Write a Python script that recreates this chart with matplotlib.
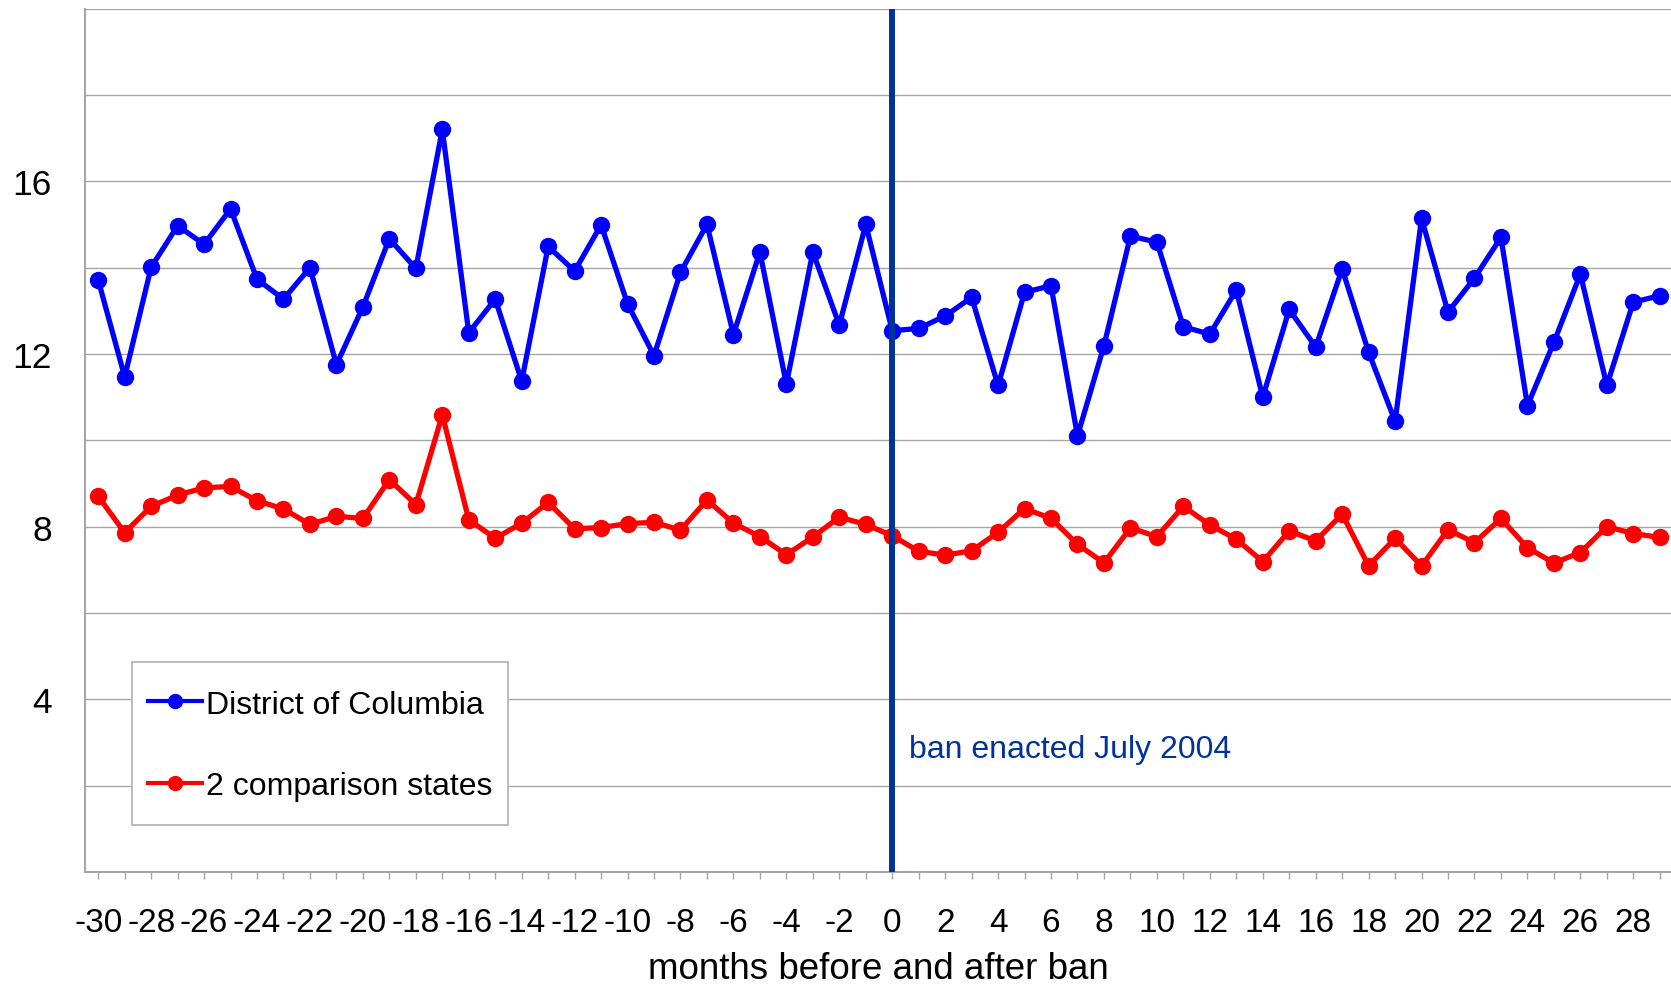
import numpy as np
import matplotlib
matplotlib.use('Agg')
import matplotlib.pyplot as plt
from matplotlib.legend_handler import HandlerLine2D

plt.rcParams['font.family'] = ['Liberation Sans', 'DejaVu Sans']

months = np.arange(-30, 30)
dc = [13.71, 11.47, 14.01, 14.97, 14.54, 15.36, 13.73, 13.27, 14.0, 11.75,
      13.09, 14.67, 13.98, 17.2, 12.49, 13.27, 11.37, 14.49,
      13.92, 14.99, 13.16, 11.96, 13.89, 15.0, 12.45, 14.36, 11.30, 14.36,
      12.67, 15.0, 12.54, 12.59, 12.88, 13.31,
      11.27, 13.43, 13.58, 10.10, 12.19, 14.73, 14.59, 12.63, 12.46, 13.48,
      11.0, 13.03, 12.16, 13.97, 12.04, 10.44, 15.14, 12.97, 13.76, 14.70,
      10.80, 12.27, 13.85, 11.27, 13.20, 13.35]
comp = [8.70, 7.86, 8.47, 8.73, 8.90, 8.93, 8.60, 8.41, 8.05, 8.24,
        8.19, 9.09, 8.51, 10.59, 8.16, 7.73, 8.08, 8.56,
        7.95, 7.98, 8.07, 8.10, 7.92, 8.62, 8.08, 7.77, 7.35, 7.76,
        8.22, 8.05, 7.79, 7.43, 7.34, 7.44,
        7.87, 8.42, 8.19, 7.59, 7.16, 7.97, 7.77, 8.47, 8.04, 7.71,
        7.19, 7.90, 7.67, 8.29, 7.09, 7.73, 7.09, 7.93, 7.63, 8.19,
        7.51, 7.16, 7.40, 8.00, 7.84, 7.75]
ytick_labels = {4: '4', 8: '8', 12: '12', 16: '16'}


# tall legend rows push the handle above the text, bring it back down
class LowLine(HandlerLine2D):
    def create_artists(self, legend, orig_handle, xdescent, ydescent,
                       width, height, fontsize, trans):
        arts = super().create_artists(legend, orig_handle, xdescent, ydescent,
                                      width, height, fontsize, trans)
        for a in arts:
            a.set_ydata(np.asarray(a.get_ydata()) - 0.19 * fontsize)
        return arts


fig = plt.figure(figsize=(16.71, 9.87), dpi=100)
ax = fig.add_axes([85 / 1671, 1 - 873 / 987, 1588 / 1671, 863.4 / 987])

l1, = ax.plot(months, dc, color='#0000ff', lw=3.8, marker='o', ms=11.5,
              label='District of Columbia', zorder=3)
l2, = ax.plot(months, comp, color='#ff0000', lw=3.8, marker='o', ms=11.5,
              label='2 comparison states', zorder=3)
ax.axvline(0, color='#003399', lw=4.3, zorder=4)
ax.text(0.62, 2.66, 'ban enacted July 2004', color='#003399', fontsize=23,
        va='baseline', ha='left')

ax.set_xlim(-30.5, 29.5)
ax.set_ylim(0, 20)

yt = np.arange(0, 21, 2)
ax.set_yticks(yt)
ax.set_yticklabels([ytick_labels.get(int(v), '') for v in yt], fontsize=25.5)
ax.tick_params(axis='y', length=0, pad=24)
ax.grid(axis='y', color='#a6a6a6', lw=1.0)

ax.set_xticks(months)
ax.set_xticklabels([str(m) if m % 2 == 0 else '' for m in months], fontsize=24)
ax.tick_params(axis='x', length=5, width=1, color='#a6a6a6', pad=20.5)

for s in ['top', 'right']:
    ax.spines[s].set_visible(False)
for s in ['left', 'bottom']:
    ax.spines[s].set_color('#a6a6a6')
    ax.spines[s].set_linewidth(1.5)
ax.set_axisbelow(True)

leg = ax.legend(loc='upper left', bbox_to_anchor=(0.0297, 0.2432), fontsize=23,
                frameon=True, fancybox=False, framealpha=1, edgecolor='#b0b0b0',
                handlelength=1.7, handletextpad=0.1, handleheight=2.0,
                labelspacing=1.0, borderpad=0.5, borderaxespad=0,
                handler_map={l1: LowLine(), l2: LowLine()})
leg.get_frame().set_linewidth(1.2)
for h in leg.legend_handles:
    h.set_linewidth(3)
    h.set_markersize(10)

fig.text(878 / 1671, 8 / 987, 'months before and after ban', fontsize=26.5,
         ha='center', va='baseline')

fig.savefig('out.png', dpi=100)
